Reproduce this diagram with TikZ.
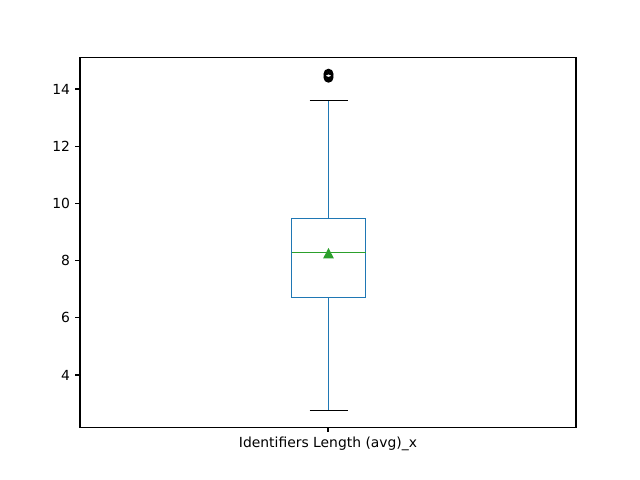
\documentclass[tikz,border=0pt]{standalone}
\usepackage{fontspec}
\setmainfont{DejaVu Sans}
\definecolor{cblue}{HTML}{1F77B4}
\definecolor{cgreen}{HTML}{2CA02C}
\begin{document}
\begin{tikzpicture}[x=0.72bp,y=-0.72bp,
  spine/.style={line width=0.8bp,black},
  tickmark/.style={line width=0.8bp,black},
  ticklabel/.style={anchor=east,inner sep=0pt,font=\fontsize{10bp}{12bp}\selectfont},
  boxline/.style={line width=0.8bp,cblue},
  capline/.style={line width=0.8bp,black},
  medline/.style={line width=0.8bp,cgreen},
  flier/.style={line width=1bp,black},
]
\useasboundingbox (0,0) rectangle (640,480);
% axes frame
\coordinate (axTL) at (80,57.6);
\coordinate (axBR) at (576,427.2);
\draw[spine] (axTL) rectangle (axBR);
% y ticks
\foreach \v in {4,6,8,10,12,14}{
  \pgfmathsetmacro{\yy}{260.6-(\v-8)*28.6}
  \coordinate (t\v) at (80,\yy);
  \draw[tickmark] (t\v) -- ++(-4.86,0);
  \node[ticklabel] (l\v) at (70.3,\yy) {\v};
}
% x tick
\coordinate (xt) at (328,427.2);
\draw[tickmark] (xt) -- ++(0,4.86);
\node[anchor=north,inner sep=0pt,font=\fontsize{10bp}{12bp}\selectfont] (xlabel) at (328,437) {Identifiers Length (avg)\_x};
% box
\coordinate (q3) at (328.5,218.5);
\coordinate (q1) at (328.5,297.5);
\coordinate (wtop) at (328.5,100.5);
\coordinate (wbot) at (328.5,410.5);
\draw[boxline] (291.5,218.5) rectangle (365.5,297.5);
\draw[boxline] (q3) -- (wtop);
\draw[boxline] (q1) -- (wbot);
\draw[capline] (309.5,100.5) -- (347.5,100.5);
\draw[capline] (309.5,410.5) -- (347.5,410.5);
\draw[medline] (291.5,252.5) -- (365.5,252.5);
% mean marker
\filldraw[cgreen,line width=1bp,line join=miter] (328.5,249.5) -- (324.3,257.6) -- (332.7,257.6) -- cycle;
% fliers
\foreach \fy in {73.6,74.6,75.7,76.8,77.8}{
  \draw[flier] (328.5,\fy) circle (4.17);
}
\end{tikzpicture}
\end{document}
